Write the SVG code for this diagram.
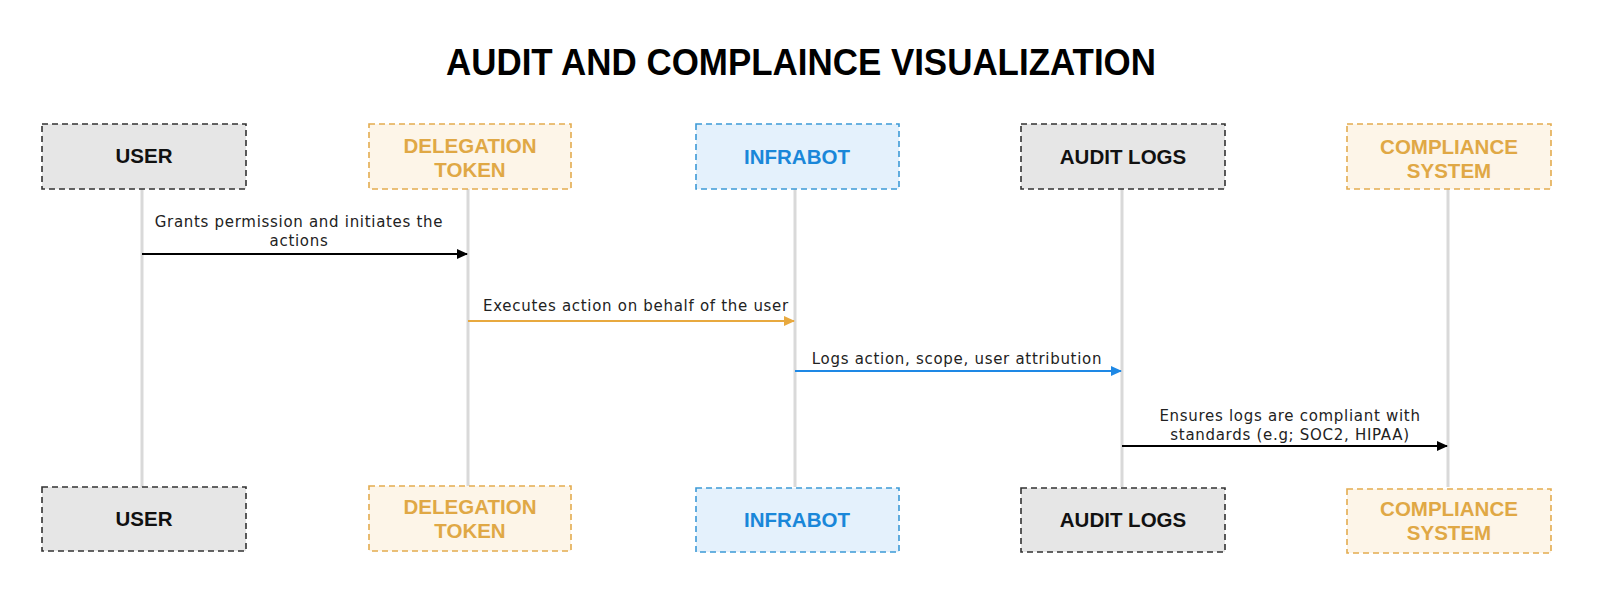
<svg xmlns="http://www.w3.org/2000/svg" width="1600" height="594" viewBox="0 0 1600 594">
<style>
.title{font-family:"Liberation Sans",Arial,sans-serif;font-weight:bold;font-size:37px;fill:#000}
.box{stroke-width:1.6;stroke-dasharray:6 4}
.gray{fill:#e6e6e6;stroke:#333}
.orange{fill:#fdf5e8;stroke:#e3ac4f}
.blue{fill:#e4f1fc;stroke:#3d9ad6}
.nl{font-family:"Liberation Sans",Arial,sans-serif;font-weight:bold;font-size:20.5px;text-anchor:middle}
.tg{fill:#111}
.to{fill:#e0a845}
.tb{fill:#1a87d9}
.life{stroke:#d9d9d9;stroke-width:3;fill:none}
.msg{stroke-width:2;fill:none}
.lbl{font-family:"DejaVu Sans",sans-serif;font-size:15px;letter-spacing:0.7px;fill:#222;text-anchor:middle}
</style>
<defs>
<marker id="ahK" markerWidth="11" markerHeight="10" refX="10" refY="5" orient="auto" markerUnits="userSpaceOnUse"><path d="M0,0 L11,5 L0,10 z" fill="#000"/></marker>
<marker id="ahO" markerWidth="11" markerHeight="10" refX="10" refY="5" orient="auto" markerUnits="userSpaceOnUse"><path d="M0,0 L11,5 L0,10 z" fill="#e8a93f"/></marker>
<marker id="ahB" markerWidth="11" markerHeight="10" refX="10" refY="5" orient="auto" markerUnits="userSpaceOnUse"><path d="M0,0 L11,5 L0,10 z" fill="#1e88e5"/></marker>
</defs>
<rect width="1600" height="594" fill="#fff"/>
<text class="title" x="446" y="75" textLength="710" lengthAdjust="spacingAndGlyphs">AUDIT AND COMPLAINCE VISUALIZATION</text>

<g id="lifelines">
<line class="life" x1="142" y1="189" x2="142" y2="487"/>
<line class="life" x1="468" y1="189" x2="468" y2="487"/>
<line class="life" x1="795" y1="189" x2="795" y2="487"/>
<line class="life" x1="1122" y1="189" x2="1122" y2="487"/>
<line class="life" x1="1448" y1="189" x2="1448" y2="487"/>
</g>

<g id="user-top"><rect class="box gray" x="42" y="124" width="204" height="65"/><text class="nl tg" x="144" y="163">USER</text></g>
<g id="token-top"><rect class="box orange" x="369" y="124" width="202" height="65"/><text class="nl to" x="470" y="153">DELEGATION</text><text class="nl to" x="470" y="177">TOKEN</text></g>
<g id="infrabot-top"><rect class="box blue" x="696" y="124" width="203" height="65"/><text class="nl tb" x="797" y="164">INFRABOT</text></g>
<g id="audit-top"><rect class="box gray" x="1021" y="124" width="204" height="65"/><text class="nl tg" x="1123" y="164">AUDIT LOGS</text></g>
<g id="compliance-top"><rect class="box orange" x="1347" y="124" width="204" height="65"/><text class="nl to" x="1449" y="154">COMPLIANCE</text><text class="nl to" x="1449" y="178">SYSTEM</text></g>

<g id="user-bottom"><rect class="box gray" x="42" y="487" width="204" height="64"/><text class="nl tg" x="144" y="526">USER</text></g>
<g id="token-bottom"><rect class="box orange" x="369" y="486" width="202" height="65"/><text class="nl to" x="470" y="514">DELEGATION</text><text class="nl to" x="470" y="538">TOKEN</text></g>
<g id="infrabot-bottom"><rect class="box blue" x="696" y="488" width="203" height="64"/><text class="nl tb" x="797" y="527">INFRABOT</text></g>
<g id="audit-bottom"><rect class="box gray" x="1021" y="488" width="204" height="64"/><text class="nl tg" x="1123" y="527">AUDIT LOGS</text></g>
<g id="compliance-bottom"><rect class="box orange" x="1347" y="489" width="204" height="64"/><text class="nl to" x="1449" y="516">COMPLIANCE</text><text class="nl to" x="1449" y="540">SYSTEM</text></g>

<g id="connectors">
<line class="msg" x1="142" y1="254" x2="467" y2="254" stroke="#000" marker-end="url(#ahK)"/>
<line class="msg" x1="468" y1="321" x2="794" y2="321" stroke="#e8a93f" marker-end="url(#ahO)"/>
<line class="msg" x1="795" y1="371" x2="1121" y2="371" stroke="#1e88e5" marker-end="url(#ahB)"/>
<line class="msg" x1="1122" y1="446" x2="1447" y2="446" stroke="#000" marker-end="url(#ahK)"/>
<text class="lbl" x="299" y="227">Grants permission and initiates the</text>
<text class="lbl" x="299" y="246">actions</text>
<text class="lbl" x="636" y="311">Executes action on behalf of the user</text>
<text class="lbl" x="957" y="364">Logs action, scope, user attribution</text>
<text class="lbl" x="1290" y="421">Ensures logs are compliant with</text>
<text class="lbl" x="1290" y="440">standards (e.g; SOC2, HIPAA)</text>
</g>
</svg>
